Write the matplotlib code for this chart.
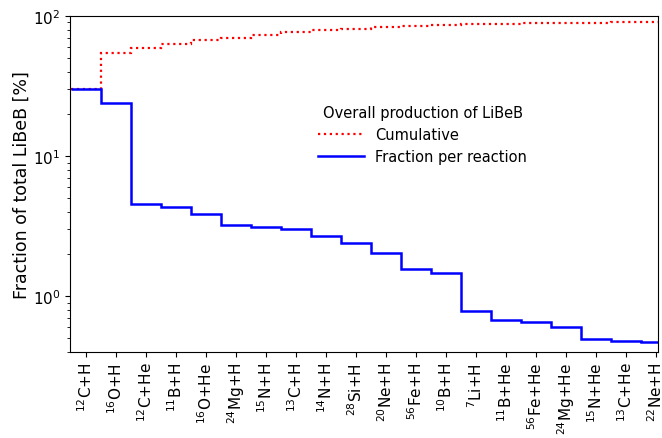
import numpy as np
from matplotlib import pyplot as plt

# 反应道标签
reactions = ['$^{12}$C+H', '$^{16}$O+H', '$^{12}$C+He', '$^{11}$B+H', '$^{16}$O+He',
             '$^{24}$Mg+H', '$^{15}$N+H', '$^{13}$C+H', '$^{14}$N+H', '$^{28}$Si+H',
             '$^{20}$Ne+H', '$^{56}$Fe+H', '$^{10}$B+H', '$^{7}$Li+H', '$^{11}$B+He',
             '$^{56}$Fe+He', '$^{24}$Mg+He', '$^{15}$N+He', '$^{13}$C+He', '$^{22}$Ne+H']

# 每个反应对 LiBeB 的贡献 (%)
fractions = [30.1, 24.0, 4.59, 4.35, 3.88, 3.24, 3.13, 3.00, 2.67, 2.38,
             2.05, 1.56, 1.47, 0.787, 0.682, 0.653, 0.599, 0.495, 0.476, 0.471]

cumulative = np.cumsum(fractions)
edges = np.arange(len(fractions) + 1) - 0.5

fig = plt.figure(figsize=(6.62, 4.39), dpi=100)
ax = fig.add_axes([70 / 662, 1 - 353 / 439, 588 / 662, 336 / 439])

ax.stairs(cumulative, edges, baseline=None, color='red', linestyle=':', linewidth=1.6,
          label='Cumulative')
ax.stairs(fractions, edges, baseline=None, color='blue', linewidth=1.8,
          label='Fraction per reaction')

ax.set_yscale('log')
ax.set_ylim(0.4, 100)
ax.set_xlim(-0.53, 19.07)

ax.set_xticks(range(len(reactions)))
ax.set_xticklabels(reactions, rotation=90, fontsize=11)
ax.tick_params(axis='y', labelsize=11)
ax.set_ylabel('Fraction of total LiBeB [%]', fontsize=12.5, labelpad=1)

ax.legend(title='Overall production of LiBeB', frameon=False, fontsize=10.5,
          title_fontsize=10.5, handlelength=3.15, handletextpad=0.75,
          loc='upper left', bbox_to_anchor=(0.40, 0.775))

plt.savefig('out.png')
